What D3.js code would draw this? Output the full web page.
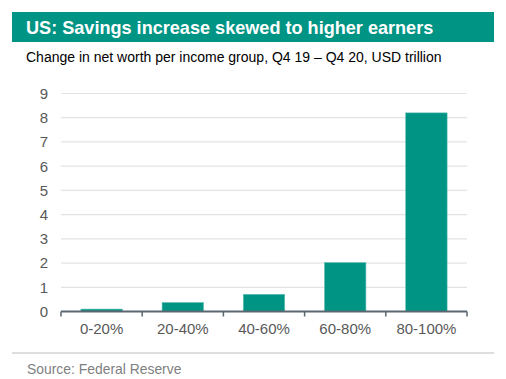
<!DOCTYPE html>
<html><head><meta charset="utf-8">
<script src="https://cdn.jsdelivr.net/npm/d3@7/dist/d3.min.js"></script>
<style>body{margin:0;background:#fff}svg{display:block}text{font-family:"Liberation Sans",Arial,sans-serif}</style>
</head><body>
<script>
const categories = ["0-20%","20-40%","40-60%","60-80%","80-100%"];
const values = [0.1, 0.37, 0.71, 2.02, 8.2];
const yTicks = [0,1,2,3,4,5,6,7,8,9];
const title = "US: Savings increase skewed to higher earners";
const subtitle = "Change in net worth per income group, Q4 19 \u2013 Q4 20, USD trillion";
const source = "Source: Federal Reserve";

const W = 506, H = 379;
const svg = d3.select("body").append("svg").attr("width", W).attr("height", H);

// title band
svg.append("rect").attr("x", 12).attr("y", 12).attr("width", 482).attr("height", 30).attr("fill", "#009485");
svg.append("text").attr("x", 26).attr("y", 34).attr("fill", "#fff").attr("font-weight", "bold")
  .attr("font-size", 18.1).text(title);
svg.append("text").attr("x", 26).attr("y", 62).attr("fill", "#000").attr("font-size", 14).text(subtitle);

const x = d3.scaleBand().domain(categories).range([61, 467]).paddingInner(0.49).paddingOuter(0.245);
const y = d3.scaleLinear().domain([0, 9]).range([311.5, 93.5]);

// gridlines
svg.append("g").selectAll("line").data(yTicks.filter(d => d > 0)).join("line")
  .attr("x1", 61).attr("x2", 467).attr("y1", d => y(d)).attr("y2", d => y(d))
  .attr("stroke", "#e3e3e3").attr("stroke-width", 1.2);

// y labels
svg.append("g").selectAll("text").data(yTicks).join("text")
  .attr("x", 48).attr("y", d => y(d)).attr("dy", "0.36em").attr("text-anchor", "end")
  .attr("font-size", 15).attr("fill", "#595959").text(d => d);

// bars
svg.append("g").selectAll("rect").data(values).join("rect")
  .attr("x", (d, i) => x(categories[i])).attr("width", x.bandwidth())
  .attr("y", d => y(d)).attr("height", d => y(0) - y(d))
  .attr("fill", "#009485").attr("stroke", "#5fbfb3").attr("stroke-width", 0.6);

// x axis
const xAxis = d3.axisBottom(x).tickSize(0).tickPadding(12);
const gx = svg.append("g").attr("transform", `translate(0,${y(0)})`).call(xAxis);
gx.select(".domain").remove();
gx.selectAll("text").attr("font-size", 15).attr("fill", "#595959").attr("font-family", '"Liberation Sans",Arial,sans-serif');
svg.append("line").attr("x1", 61).attr("x2", 467).attr("y1", y(0)).attr("y2", y(0))
  .attr("stroke", "#5a6670").attr("stroke-width", 2);
const boundaries = categories.map(c => x(c) - x.step() * x.paddingInner() / 2).concat([467]);
boundaries[0] = 61;
svg.append("g").selectAll("line").data(boundaries).join("line")
  .attr("x1", d => d).attr("x2", d => d).attr("y1", y(0)).attr("y2", y(0) + 5)
  .attr("stroke", "#5a6670").attr("stroke-width", 1.5);

// footer
svg.append("line").attr("x1", 12).attr("x2", 494).attr("y1", 353).attr("y2", 353)
  .attr("stroke", "#bdbdbd").attr("stroke-width", 1);
svg.append("text").attr("x", 27).attr("y", 374).attr("font-size", 13.9).attr("fill", "#7f7f7f").text(source);
</script>
</body></html>
